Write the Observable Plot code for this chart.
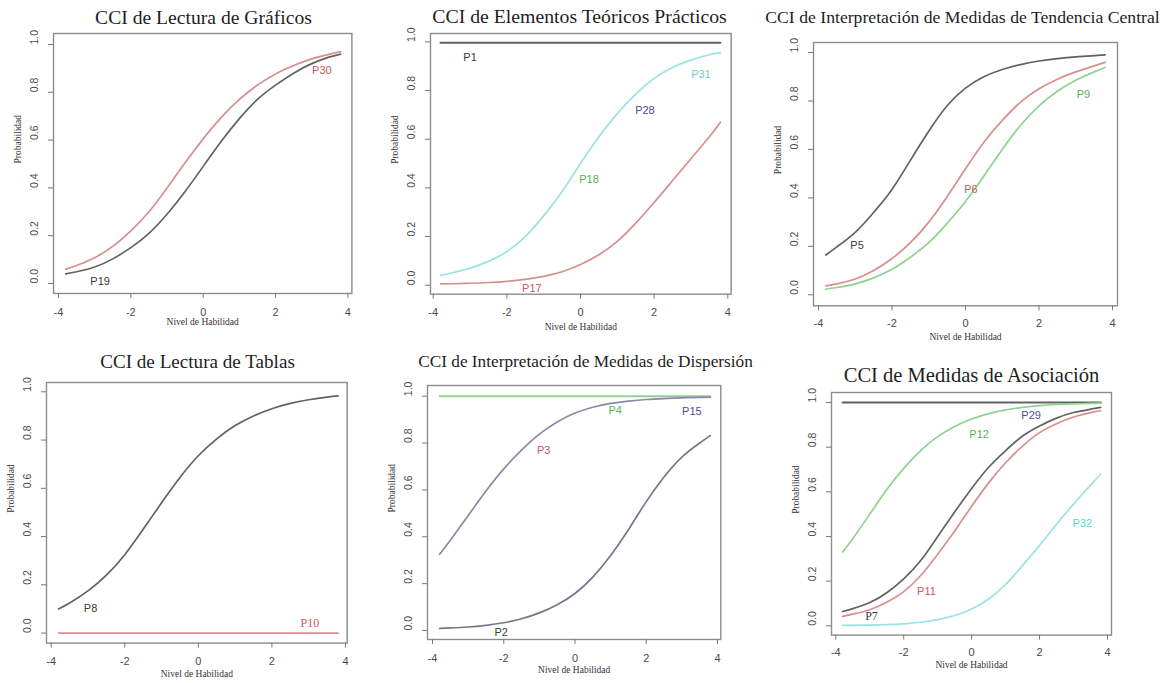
<!DOCTYPE html>
<html><head><meta charset="utf-8">
<script src="https://cdn.jsdelivr.net/npm/d3@7"></script>
<script src="https://cdn.jsdelivr.net/npm/@observablehq/plot@0.6"></script>
<style>
body{margin:0;background:#fff;width:1164px;height:683px;position:relative;overflow:hidden}
.panel{position:absolute}
.title{position:absolute;white-space:nowrap;font-family:"Liberation Serif","Times New Roman",serif;color:#1e1e1e;transform:translate(-50%,-50%);line-height:1}
</style></head>
<body>
<script>
// ---------- data ----------
const xGrid = [-3.8, -3.5, -3, -2.5, -2, -1.5, -1, -0.5, 0, 0.5, 1, 1.5, 2, 2.5, 3, 3.5, 3.8];
const xTicks = [-4, -2, 0, 2, 4];
const yTicks = [0, 0.2, 0.4, 0.6, 0.8, 1.0];
const yTickLabels = ["0.0", "0.2", "0.4", "0.6", "0.8", "1.0"];
const xLabel = "Nivel de Habilidad";
const yLabel = "Probabilidad";
const titles = [
  "CCI de Lectura de Gráficos",
  "CCI de Elementos Teóricos Prácticos",
  "CCI de Interpretación de Medidas de Tendencia Central",
  "CCI de Lectura de Tablas",
  "CCI de Interpretación de Medidas de Dispersión",
  "CCI de Medidas de Asociación"
];
// Panel 1: Lectura de Gráficos
const graficos_P19 = [0.04, 0.049, 0.069, 0.103, 0.15, 0.21, 0.29, 0.385, 0.49, 0.595, 0.69, 0.77, 0.83, 0.88, 0.92, 0.948, 0.96];
const graficos_P30 = [0.06, 0.075, 0.108, 0.155, 0.22, 0.30, 0.40, 0.505, 0.605, 0.695, 0.77, 0.83, 0.877, 0.912, 0.94, 0.96, 0.97];
// Panel 2: Elementos Teóricos Prácticos
const teoricos_P1  = [0.997, 0.997, 0.997, 0.997, 0.997, 0.997, 0.997, 0.997, 0.997, 0.997, 0.997, 0.997, 0.997, 0.997, 0.997, 0.997, 0.997];
const teoricos_P31 = [0.04, 0.05, 0.07, 0.098, 0.138, 0.20, 0.285, 0.385, 0.50, 0.61, 0.705, 0.785, 0.85, 0.895, 0.925, 0.947, 0.956];
const teoricos_P17 = [0.005, 0.006, 0.008, 0.011, 0.016, 0.024, 0.036, 0.055, 0.085, 0.125, 0.18, 0.255, 0.34, 0.43, 0.52, 0.61, 0.67];
// Panel 3: Tendencia Central
const central_P5 = [0.164, 0.198, 0.258, 0.34, 0.435, 0.555, 0.675, 0.78, 0.853, 0.90, 0.93, 0.95, 0.965, 0.975, 0.982, 0.987, 0.99];
const central_P6 = [0.037, 0.045, 0.065, 0.10, 0.15, 0.215, 0.30, 0.405, 0.52, 0.63, 0.72, 0.795, 0.85, 0.89, 0.92, 0.945, 0.959];
const central_P9 = [0.023, 0.03, 0.045, 0.07, 0.105, 0.155, 0.215, 0.295, 0.385, 0.49, 0.60, 0.70, 0.78, 0.84, 0.885, 0.92, 0.938];
// Panel 4: Lectura de Tablas
const tablas_P8  = [0.10, 0.125, 0.175, 0.24, 0.325, 0.43, 0.54, 0.645, 0.735, 0.805, 0.86, 0.90, 0.93, 0.952, 0.967, 0.978, 0.983];
const tablas_P10 = [0, 0, 0, 0, 0, 0, 0, 0, 0, 0, 0, 0, 0, 0, 0, 0, 0];
// Panel 5: Dispersión
const dispersion_P4 = [1, 1, 1, 1, 1, 1, 1, 1, 1, 1, 1, 1, 1, 1, 1, 1, 1];
const dispersion_P3 = [0.325, 0.385, 0.49, 0.595, 0.69, 0.77, 0.838, 0.89, 0.928, 0.953, 0.969, 0.979, 0.986, 0.99, 0.993, 0.995, 0.996];
const dispersion_P2 = [0.009, 0.011, 0.015, 0.022, 0.033, 0.05, 0.075, 0.11, 0.158, 0.228, 0.32, 0.43, 0.55, 0.655, 0.74, 0.80, 0.832];
// Panel 6: Asociación
const asociacion_P29 = [1, 1, 1, 1, 1, 1, 1, 1, 1, 1, 1, 1, 1, 1, 1, 1, 1];
const asociacion_P12 = [0.331, 0.39, 0.50, 0.61, 0.705, 0.785, 0.847, 0.893, 0.926, 0.95, 0.967, 0.978, 0.986, 0.991, 0.994, 0.996, 0.997];
const asociacion_P7  = [0.064, 0.077, 0.104, 0.148, 0.21, 0.292, 0.40, 0.51, 0.615, 0.71, 0.785, 0.85, 0.895, 0.93, 0.955, 0.97, 0.978];
const asociacion_P11 = [0.042, 0.052, 0.072, 0.105, 0.153, 0.225, 0.32, 0.425, 0.535, 0.64, 0.73, 0.805, 0.865, 0.905, 0.935, 0.955, 0.963];
const asociacion_P32 = [0.002, 0.002, 0.003, 0.005, 0.009, 0.016, 0.028, 0.046, 0.075, 0.12, 0.185, 0.27, 0.36, 0.455, 0.545, 0.63, 0.68];

// ---------- styles ----------
const C = {
  black: "#626262", red: "#d98e8e", green: "#8ed38e", cyan: "#98e4e4", purple: "#8e87aa", gray2: "#76768a",
  tBlack: "#3a3a3a", tRed: "#c45a5a", tGreen: "#55b455", tCyan: "#5ed2d2", tBlue: "#4c4ca0"
};
const SANS = '"Liberation Sans", Arial, sans-serif';
const SERIF = '"Liberation Serif", "Times New Roman", serif';

const panels = [
  { title: titles[0], tw: 217, tc: [203.5, 18],
    g: {L: 53.3, R: 351.7, T: 33.3, B: 293.3, xm4: 58.3, x4: 347.7, y0: 283.3, y1: 44.3}, tickDy: 20, labDy: 32,
    series: [[graficos_P19, C.black], [graficos_P30, C.red]],
    labels: [["P30", 3.28, 0.893, C.tRed], ["P19", -2.85, 0.01, C.tBlack]] },
  { title: titles[1], tw: 295, tc: [579.5, 17],
    g: {L: 430, R: 730.7, T: 33.3, B: 294, xm4: 432.7, x4: 727.3, y0: 285, y1: 41.7}, tickDy: 19.5, labDy: 36,
    series: [[teoricos_P1, C.black, 2], [teoricos_P31, C.cyan], [teoricos_P17, C.red]],
    labels: [["P1", -3.0, 0.936, C.tBlack], ["P31", 3.27, 0.867, C.tCyan], ["P28", 1.75, 0.72, C.tBlue],
             ["P18", 0.23, 0.436, C.tGreen], ["P17", -1.32, -0.014, C.tRed]] },
  { title: titles[2], tw: 395, tc: [962.5, 18],
    g: {L: 813, R: 1117, T: 41.7, B: 305, xm4: 818, x4: 1112, y0: 294, y1: 51.7}, tickDy: 18.5, labDy: 34,
    series: [[central_P5, C.black], [central_P6, C.red], [central_P9, C.green]],
    labels: [["P5", -2.95, 0.202, C.tBlack], ["P6", 0.15, 0.436, C.tRed], ["P9", 3.21, 0.825, C.tGreen]] },
  { title: titles[3], tw: 195, tc: [197.5, 361.7],
    g: {L: 46, R: 346.7, T: 381.7, B: 642.3, xm4: 50.7, x4: 345, y0: 632.3, y1: 391}, tickDy: 19.5, labDy: 34.4,
    series: [[tablas_P8, C.black], [tablas_P10, C.red]],
    labels: [["P8", -2.93, 0.10, C.tBlack], ["P10", 3.03, 0.041, C.tRed, SERIF, 12]] },
  { title: titles[4], tw: 335, tc: [585.5, 361.7],
    g: {L: 426.7, R: 720, T: 385, B: 639, xm4: 431.7, x4: 716.7, y0: 630, y1: 395.7}, tickDy: 20.3, labDy: 33.7,
    series: [[dispersion_P4, C.green, 2], [dispersion_P3, C.purple], [dispersion_P2, C.gray2]],
    labels: [["P3", -0.88, 0.767, C.tRed], ["P4", 1.13, 0.939, C.tGreen], ["P15", 3.28, 0.936, C.tBlue],
             ["P2", -2.07, -0.01, C.tBlack]] },
  { title: titles[5], tw: 257, tc: [971.5, 375],
    g: {L: 830.7, R: 1110.7, T: 391.7, B: 634.3, xm4: 835, x4: 1106.7, y0: 625, y1: 401.7}, tickDy: 19, labDy: 33.4,
    series: [[asociacion_P29, C.black, 2], [asociacion_P12, C.green], [asociacion_P32, C.cyan],
             [asociacion_P11, C.red], [asociacion_P7, C.black]],
    labels: [["P12", 0.22, 0.859, C.tGreen], ["P29", 1.75, 0.94, C.tBlue], ["P11", -1.33, 0.153, C.tRed],
             ["P7", -2.95, 0.045, C.tBlack, SERIF, 12], ["P32", 3.26, 0.46, C.tCyan]] }
];

const ctx = document.createElement("canvas").getContext("2d");
ctx.font = '100px "Liberation Serif"';

for (const p of panels) {
  const g = p.g, ml = 50, mr = 6, mt = 6, mb = 44;
  const sx = 8 / (g.x4 - g.xm4);
  const xd = [-4 + (g.L - g.xm4) * sx, -4 + (g.R - g.xm4) * sx];
  const sy = 1 / (g.y0 - g.y1);
  const yd = [(g.y0 - g.B) * sy, (g.y0 - g.T) * sy];
  const w = g.R - g.L, h = g.B - g.T;

  const marks = [];
  for (const [vals, col, sw] of p.series) {
    marks.push(Plot.line(xGrid.map((x, i) => ({x, y: vals[i]})),
      {x: "x", y: "y", stroke: col, strokeWidth: sw || 1.7, curve: "natural"}));
  }
  marks.push(Plot.frame({stroke: "#8c8c8c", strokeWidth: 1.4}));
  marks.push(Plot.axisX({ticks: xTicks, tickSize: 5, tickPadding: p.tickDy - 10.5, stroke: "#777", fill: "#4a4a4a",
    fontSize: 11, fontFamily: SANS, label: null, tickFormat: d => String(d)}));
  marks.push(Plot.axisY({ticks: yTicks, tickSize: 5, stroke: "#777", tickFormat: () => "", label: null}));
  marks.push(Plot.text(yTicks, {y: d => d, text: (d, i) => yTickLabels[i], frameAnchor: "left", dx: -19, rotate: -90,
    fill: "#4a4a4a", fontSize: 10.5, fontFamily: SANS}));
  marks.push(Plot.text([xLabel], {text: d => d, frameAnchor: "bottom", dy: p.labDy, fill: "#333", fontSize: 9.5, fontFamily: SERIF}));
  marks.push(Plot.text([yLabel], {text: d => d, frameAnchor: "left", dx: -36, rotate: -90, fill: "#333", fontSize: 9.5, fontFamily: SERIF}));
  for (const [t, lx, ly, col, ff, fs] of p.labels) {
    marks.push(Plot.text([{x: lx, y: ly, t}], {x: "x", y: "y", text: "t", fill: col, fontSize: fs || 11, fontFamily: ff || SANS}));
  }

  const chart = Plot.plot({
    width: w + ml + mr, height: h + mt + mb,
    marginLeft: ml, marginRight: mr, marginTop: mt, marginBottom: mb,
    x: {domain: xd}, y: {domain: yd},
    style: {background: "transparent", overflow: "visible"},
    marks
  });
  const div = document.createElement("div");
  div.className = "panel";
  div.style.left = (g.L - ml) + "px";
  div.style.top = (g.T - mt) + "px";
  div.style.width = (w + ml + mr) + "px";
  div.appendChild(chart);
  document.body.appendChild(div);

  const tdiv = document.createElement("div");
  tdiv.className = "title";
  tdiv.textContent = p.title;
  const mw = ctx.measureText(p.title).width;
  tdiv.style.fontSize = (100 * p.tw / mw).toFixed(2) + "px";
  tdiv.style.left = p.tc[0] + "px";
  tdiv.style.top = p.tc[1] + "px";
  document.body.appendChild(tdiv);
}
</script>
</body></html>
